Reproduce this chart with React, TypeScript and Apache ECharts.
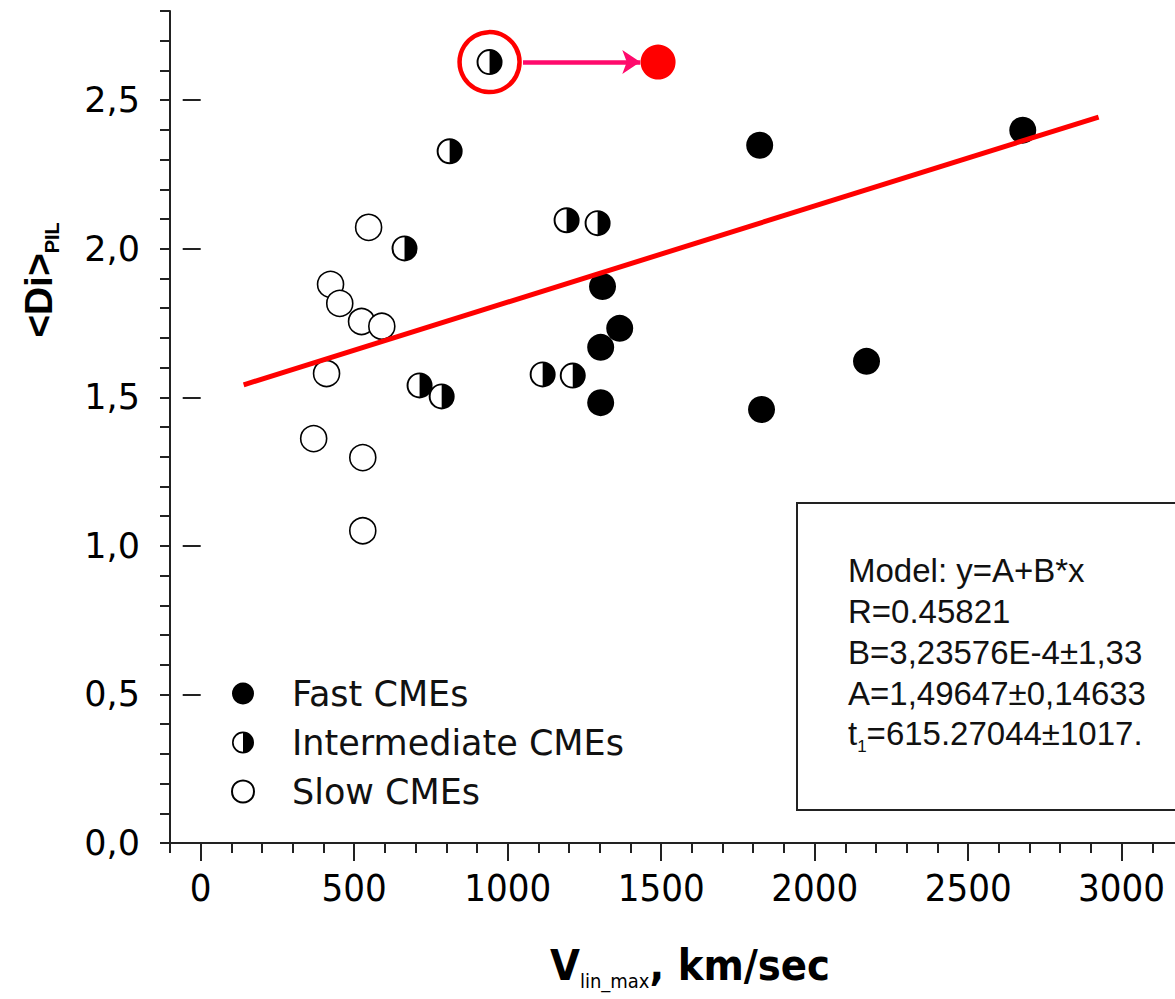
import React, { useEffect, useRef } from 'react';
import * as echarts from 'echarts';

// ---- data ----
const fastX = [1821, 2678, 1309, 1365, 1303, 2169, 1303, 1827];
const fastY = [2.348, 2.399, 1.873, 1.732, 1.668, 1.621, 1.482, 1.459];
const interX = [941, 811, 1192, 1293, 664, 1114, 1212, 713, 785];
const interY = [2.628, 2.328, 2.096, 2.086, 2.001, 1.577, 1.573, 1.54, 1.503];
const slowX = [547, 423, 453, 524, 590, 410, 368, 528, 528];
const slowY = [2.072, 1.88, 1.816, 1.755, 1.739, 1.58, 1.361, 1.297, 1.051];
const fitX = [140, 2925];
const fitY = [1.542, 2.443];
const highlightPt = [941, 2.628];
const movedPt = [1490, 2.628];
const arrowX = [1050, 1432];
const arrowY = [2.628, 2.628];
const xMajorTicks = [0, 500, 1000, 1500, 2000, 2500, 3000];
const yMajorTicks = [0, 0.5, 1.0, 1.5, 2.0, 2.5];
const seriesNames = ['Fast CMEs', 'Intermediate CMEs', 'Slow CMEs'];
const boxLines = ['Model: y=A+B*x', 'R=0.45821', 'B=3,23576E-4\u00b11,33', 'A=1,49647\u00b10,14633'];
const tLine = ['t', '1', '=615.27044\u00b11017.'];

const zip = (xs: number[], ys: number[]) => xs.map((x, i) => [x, ys[i]]);

const HALF =
  'path://M0,-10A10,10,0,0,1,0,10ZM0,-10A10,10,0,0,0,0,10L0,8.5A8.5,8.5,0,0,1,0,-8.5Z';

const SANS = '"Liberation Sans", Arial, sans-serif';
const WIDE = '"DejaVu Sans", sans-serif';
const NARROW = '"DejaVu Sans Condensed", "Liberation Sans Narrow", "Liberation Sans", sans-serif';

export default function App() {
  const ref = useRef<HTMLDivElement>(null);
  useEffect(() => {
    if (!ref.current) return;
    const chart = echarts.init(ref.current, null, { renderer: 'svg' });
    const axisCol = '#222';
    const option: any = {
      animation: false,
      backgroundColor: '#ffffff',
      grid: { left: 170, top: 11, width: 1013, height: 832 },
      xAxis: [
        {
          type: 'value', min: -100, max: 3200, interval: 100,
          axisLine: { show: true, onZero: false, lineStyle: { color: axisCol, width: 2 } },
          axisTick: { show: true, length: 10, lineStyle: { color: axisCol, width: 2 } },
          splitLine: { show: false },
          axisLabel: {
            margin: 26, fontSize: 38, fontFamily: NARROW, color: '#000',
            formatter: (v: number) => (xMajorTicks.indexOf(v) >= 0 ? String(v) : ''),
          },
        },
        {
          type: 'value', min: -100, max: 3200, position: 'bottom',
          axisLine: { show: false },
          axisTick: { show: true, length: 18, customValues: xMajorTicks, lineStyle: { color: axisCol, width: 2 } },
          axisLabel: { show: false },
          splitLine: { show: false },
        },
      ],
      yAxis: [
        {
          type: 'value', min: 0, max: 2.8, interval: 0.1,
          axisLine: { show: true, onZero: false, lineStyle: { color: axisCol, width: 2 } },
          axisTick: { show: true, length: 10, lineStyle: { color: axisCol, width: 2 } },
          splitLine: { show: false },
          axisLabel: {
            margin: 30, fontSize: 35, fontFamily: WIDE, color: '#000',
            formatter: (v: number) => {
              const m = yMajorTicks.find((t) => Math.abs(t - v) < 1e-6);
              return m === undefined ? '' : m.toFixed(1).replace('.', ',');
            },
          },
        },
        {
          type: 'value', min: 0, max: 2.8, position: 'left',
          axisLine: { show: false },
          axisTick: { show: true, length: 18, customValues: yMajorTicks, lineStyle: { color: axisCol, width: 2 } },
          axisLabel: { show: false },
          splitLine: { show: false },
        },
      ],
      legend: {
        orient: 'vertical', left: 226, top: 671, itemWidth: 22, itemHeight: 22, itemGap: 14,
        selectedMode: false,
        textStyle: { fontSize: 35, fontFamily: WIDE, color: '#111', padding: [0, 0, 0, 33], lineHeight: 35 },
        data: [
          { name: seriesNames[0], icon: 'circle' },
          { name: seriesNames[1], icon: HALF },
          { name: seriesNames[2], icon: 'circle' },
        ],
      },
      series: [
        {
          name: seriesNames[2], type: 'scatter', symbol: 'circle', symbolSize: 26, silent: true,
          itemStyle: { color: '#ffffff', borderColor: '#000', borderWidth: 1.6, opacity: 1 },
          data: zip(slowX, slowY),
        },
        {
          name: 'interBg', type: 'scatter', symbol: 'circle', symbolSize: 25, silent: true,
          itemStyle: { color: '#ffffff', opacity: 1 },
          data: zip(interX, interY),
        },
        {
          name: seriesNames[1], type: 'scatter', symbol: HALF, symbolSize: 26, silent: true,
          itemStyle: { color: '#000', opacity: 1 },
          data: zip(interX, interY),
        },
        {
          name: seriesNames[0], type: 'scatter', symbol: 'circle', symbolSize: 27, silent: true,
          itemStyle: { color: '#000', opacity: 1 },
          data: zip(fastX, fastY),
        },
        {
          name: 'fit', type: 'line', symbol: 'none', silent: true, z: 5,
          lineStyle: { color: '#ff0000', width: 5 },
          data: zip(fitX, fitY),
        },
        {
          name: 'ring', type: 'scatter', symbol: 'circle', symbolSize: 60, silent: true, z: 6,
          itemStyle: { color: 'rgba(0,0,0,0)', borderColor: '#ff0000', borderWidth: 4.5, opacity: 1 },
          data: [highlightPt],
        },
        {
          name: 'arrow', type: 'lines', coordinateSystem: 'cartesian2d', silent: true, z: 6,
          symbol: ['none', 'arrow'], symbolSize: 18,
          lineStyle: { color: '#ff0a6c', width: 4.5, opacity: 1, curveness: 0 },
          data: [{ coords: zip(arrowX, arrowY) }],
        },
        {
          name: 'moved', type: 'scatter', symbol: 'circle', symbolSize: 35, silent: true, z: 6,
          itemStyle: { color: '#ff0000', opacity: 1 },
          data: [movedPt],
        },
      ],
      graphic: [
        {
          type: 'rect', z: 10,
          shape: { x: 797, y: 503, width: 600, height: 307 },
          style: { fill: '#ffffff', stroke: '#222', lineWidth: 2 },
        },
        ...boxLines.map((t, i) => ({
          type: 'text', z: 11, x: 848, y: 570 + i * 41,
          style: { text: t, fontSize: 33, fontFamily: SANS, fill: '#111', verticalAlign: 'middle', align: 'left' },
        })),
        {
          type: 'text', z: 11, x: 848, y: 733,
          style: {
            text: `{a|${tLine[0]}}{s|${tLine[1]}}{a|${tLine[2]}}`,
            verticalAlign: 'middle', align: 'left',
            rich: {
              a: { fontSize: 33, fontFamily: SANS, fill: '#111', lineHeight: 36 },
              s: { fontSize: 17, fontFamily: SANS, fill: '#111', lineHeight: 17, padding: [26, 0, 0, 0] },
            },
          },
        },
        {
          type: 'text', z: 11, x: 38, y: 280, rotation: Math.PI / 2,
          style: {
            text: '{a|<Di>}{b|PIL}', align: 'center', verticalAlign: 'middle',
            rich: {
              a: { fontSize: 39, fontWeight: 'bold', fontFamily: SANS, fill: '#000', lineHeight: 40 },
              b: { fontSize: 20, fontWeight: 'bold', fontFamily: SANS, fill: '#000', lineHeight: 20, padding: [28, 0, 0, 0] },
            },
          },
        },
        {
          type: 'text', z: 11, x: 690, y: 965,
          style: {
            text: '{v|V}{s|lin_max}{r|, km/sec}', align: 'center', verticalAlign: 'middle',
            rich: {
              v: { fontSize: 43, fontWeight: 'bold', fontFamily: NARROW, fill: '#000', lineHeight: 48 },
              s: { fontSize: 20, fontFamily: NARROW, fill: '#000', lineHeight: 20, padding: [32, 0, 0, 0] },
              r: { fontSize: 43, fontWeight: 'bold', fontFamily: NARROW, fill: '#000', lineHeight: 48 },
            },
          },
        },
      ],
    };
    chart.setOption(option);
    return () => chart.dispose();
  }, []);
  return (
    <div style={{ position: 'fixed', left: 0, top: 0, width: 1175, height: 999, overflow: 'hidden', background: '#fff' }}>
      <div ref={ref} style={{ width: 1260, height: 999 }} />
    </div>
  );
}
